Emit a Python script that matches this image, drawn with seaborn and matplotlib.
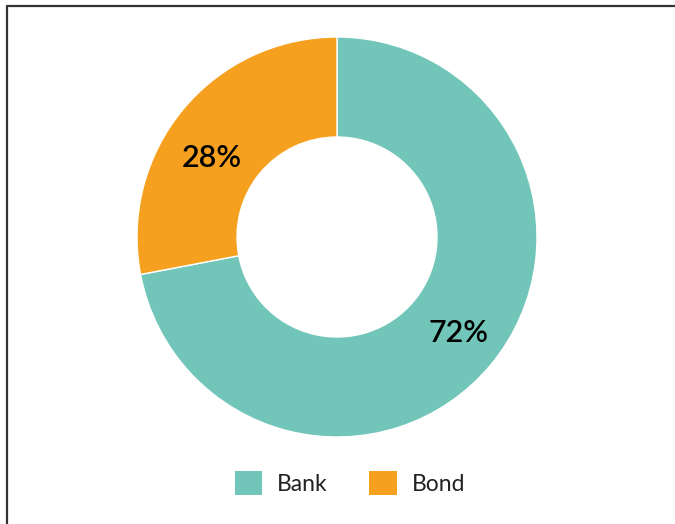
import matplotlib
matplotlib.use("Agg")
import matplotlib.pyplot as plt
import matplotlib.transforms as mtransforms
import seaborn as sns
from matplotlib.lines import Line2D
from matplotlib.patches import Patch

categories = ["Bank", "Bond"]
shares = [72, 28]
colors = ["#72C5B9", "#F5A01E"]

sns.set_theme(style="white")
plt.rcParams["font.family"] = ["Lato", "DejaVu Sans"]

W, H = 675, 524
fig = plt.figure(figsize=(W / 100, H / 100), dpi=100)
fig.patch.set_facecolor("white")

# axes hosting the donut (radius 1 maps to 200 px)
cx, cy, r = 337, 237, 200
ax = fig.add_axes([(cx - r) / W, 1 - (cy + r) / H, 2 * r / W, 2 * r / H])

wedges, texts, autotexts = ax.pie(
    shares,
    colors=sns.color_palette(colors),
    startangle=90,
    counterclock=False,
    radius=1,
    autopct=lambda p: f"{p:.0f}%",
    pctdistance=0.75,
    wedgeprops=dict(width=0.5, edgecolor="white", linewidth=1),
    textprops=dict(fontsize=22, color="black", fontweight="semibold"),
)
ax.set_xlim(-1, 1)
ax.set_ylim(-1, 1)
ax.set_aspect("equal")
ax.axis("off")

# small label nudges (in points) to match the reference placement
label_offsets = [(4, 0), (-7, -12)]
for t, (dx, dy) in zip(autotexts, label_offsets):
    t.set_transform(mtransforms.offset_copy(ax.transData, fig=fig, x=dx, y=dy, units="points"))

handles = [Patch(facecolor=c, edgecolor="none", label=l) for c, l in zip(colors, categories)]
leg = fig.legend(
    handles=handles,
    loc="center",
    bbox_to_anchor=(350 / W, 1 - 483 / H),
    ncol=2,
    frameon=False,
    fontsize=16.5,
    handlelength=1.2,
    handleheight=1.2,
    handletextpad=0.65,
    columnspacing=1.8,
)
for t in leg.get_texts():
    t.set_fontweight("normal")
    t.set_color("#222222")

# frame lines (left and top)
fig.add_artist(Line2D([6.5 / W, 6.5 / W], [0, 1 - 5.5 / H], transform=fig.transFigure,
                      color="#333333", linewidth=1.6))
fig.add_artist(Line2D([6.5 / W, 1], [1 - 5.5 / H, 1 - 5.5 / H], transform=fig.transFigure,
                      color="#333333", linewidth=1.6))

fig.savefig("out.png", dpi=100, facecolor="white")
